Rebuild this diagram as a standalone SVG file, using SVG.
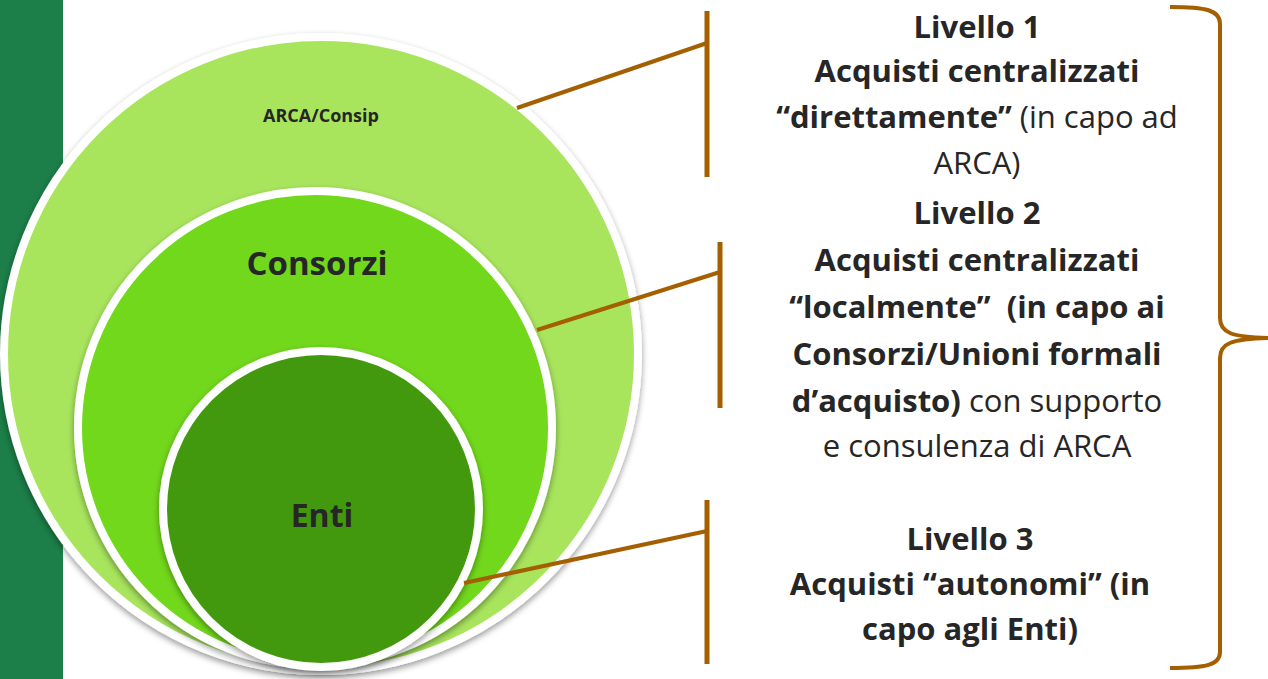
<svg xmlns="http://www.w3.org/2000/svg" width="1268" height="679" viewBox="0 0 1268 679">
<style>
.circ{stroke:#fff;stroke-width:8;filter:url(#sh)}
.lbl{font-family:"Open Sans","Liberation Sans",sans-serif;font-weight:bold;fill:#262626;text-anchor:middle}
.rt{font-family:"Open Sans","Liberation Sans",sans-serif;font-size:31px;fill:#262626;text-anchor:middle}
.b{font-weight:bold}
.con{stroke:#A35F00;stroke-width:4;fill:none}
.bar{stroke:#A35F00;stroke-width:5;fill:none}
</style>
<defs>
<filter id="sh" x="-10%" y="-10%" width="120%" height="125%">
<feDropShadow dx="0" dy="3" stdDeviation="3" flood-color="#000" flood-opacity="0.4"/>
</filter>
</defs>
<rect width="1268" height="679" fill="#fff"/>
<rect x="0" y="0" width="63" height="679" fill="#1C7E48"/>
<g id="node-arca">
<circle class="circ" cx="321" cy="354" r="317" fill="#A8E55D"/>
<text class="lbl" x="321" y="122" font-size="18">ARCA/Consip</text>
</g>
<g id="node-consorzi">
<circle class="circ" cx="315" cy="428" r="237" fill="#72D81A"/>
<text class="lbl" x="317" y="275" font-size="33">Consorzi</text>
</g>
<g id="node-enti">
<circle class="circ" cx="321" cy="509" r="158" fill="#43990E"/>
<text class="lbl" x="322" y="527" font-size="32">Enti</text>
</g>
<g id="connectors">
<line class="con" x1="517" y1="108" x2="707" y2="43"/>
<line class="bar" x1="707" y1="11" x2="707" y2="177"/>
<line class="con" x1="537" y1="330" x2="720" y2="272"/>
<line class="bar" x1="720" y1="242" x2="720" y2="408"/>
<line class="con" x1="464" y1="583" x2="707" y2="531"/>
<line class="bar" x1="707" y1="500" x2="707" y2="664"/>
<path class="con" d="M1170,7 C1206,7 1220,10 1220,24 L1220,318 C1220,333 1232,337 1268,338 C1232,339 1220,343 1220,358 L1220,652 C1220,665 1206,668 1170,668"/>
</g>
<g id="node-livello1">
<text class="rt b" x="977" y="38">Livello 1</text>
<text class="rt b" x="977" y="82">Acquisti centralizzati</text>
<text class="rt" x="977" y="128"><tspan class="b">“direttamente”</tspan> (in capo ad</text>
<text class="rt" x="977" y="174">ARCA)</text>
</g>
<g id="node-livello2">
<text class="rt b" x="977" y="224">Livello 2</text>
<text class="rt b" x="977" y="271">Acquisti centralizzati</text>
<text class="rt b" x="977" y="318" xml:space="preserve">“localmente”  (in capo ai</text>
<text class="rt b" x="977" y="365">Consorzi/Unioni formali</text>
<text class="rt" x="977" y="412"><tspan class="b">d’acquisto)</tspan> con supporto</text>
<text class="rt" x="977" y="457">e consulenza di ARCA</text>
</g>
<g id="node-livello3">
<text class="rt b" x="970" y="550">Livello 3</text>
<text class="rt b" x="970" y="595">Acquisti “autonomi” (in</text>
<text class="rt b" x="970" y="640">capo agli Enti)</text>
</g>
</svg>
